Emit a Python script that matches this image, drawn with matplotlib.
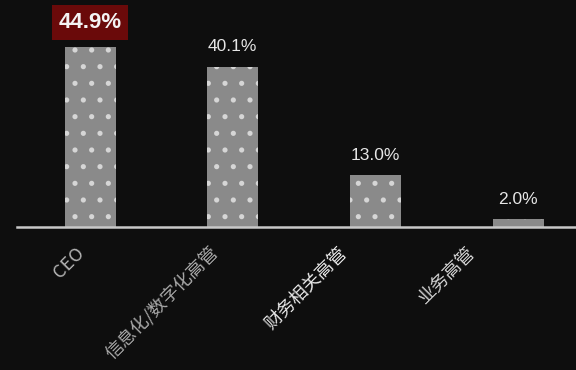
import matplotlib
matplotlib.use("Agg")
import matplotlib.pyplot as plt
from matplotlib.transforms import ScaledTranslation

# Share of respondents by role
categories = ["CEO", "信息化/数字化高管", "财务相关高管", "业务高管"]
values = [44.9, 40.1, 13.0, 2.0]
value_labels = ["44.9%", "40.1%", "13.0%", "2.0%"]
highlight_index = 0

BG = "#0e0e0e"
BAR = "#8a8a8a"
DOT = "#d6d6d6"
TEXT = "#e6e6e6"

plt.rcParams["hatch.linewidth"] = 1.3

fig = plt.figure(figsize=(5.76, 3.70), dpi=100, facecolor=BG)
ax = fig.add_axes([17 / 576, 1 - 227 / 370, (576 - 17) / 576, 227 / 370])
ax.set_facecolor(BG)

x = list(range(len(categories)))
bars = ax.bar(x, values, width=0.357, color=BAR, hatch=".", edgecolor=DOT,
              linewidth=0, zorder=2)

ax.set_xlim(-0.512, 3.405)
ax.set_ylim(0, 56.75)

for s in ("top", "right", "left"):
    ax.spines[s].set_visible(False)
ax.spines["bottom"].set_color("#c8c8c8")
ax.spines["bottom"].set_linewidth(1.8)
ax.spines["bottom"].set_zorder(3)
ax.set_yticks([])
ax.set_xticks([])

# value labels above bars
for i, (b, v, lab) in enumerate(zip(bars, values, value_labels)):
    cx = b.get_x() + b.get_width() / 2
    if i == highlight_index:
        ax.annotate(lab, (cx, v), xytext=(0, 14), textcoords="offset points",
                    ha="center", va="baseline", fontsize=16, fontweight="bold",
                    color="#f4f4f4", family="Liberation Sans",
                    bbox=dict(boxstyle="square,pad=0.3", facecolor="#6a0a0a",
                              edgecolor="none"),
                    annotation_clip=False)
    else:
        ax.annotate(lab, (cx, v), xytext=(0, 11), textcoords="offset points",
                    ha="center", va="baseline", fontsize=12.5,
                    color=TEXT, family="Liberation Sans",
                    annotation_clip=False)

# rotated category labels below the axis
label_shift_px = [-8, -17, -31, -46]
label_colors = ["#b4b4b4", "#a8a8a8", "#e8e8e8", "#d4d4d4"]
xt = ax.get_xaxis_transform()
for i, (name, dx) in enumerate(zip(categories, label_shift_px)):
    off = ScaledTranslation(dx / 100, -23 / 100, fig.dpi_scale_trans)
    ax.text(x[i], 0, name, transform=xt + off, rotation=45,
            rotation_mode="anchor", ha="right", va="center",
            fontsize=13, color=label_colors[i],
            family=["Noto Sans CJK SC", "DejaVu Sans"])

fig.savefig("out.png", dpi=100, facecolor=BG)
